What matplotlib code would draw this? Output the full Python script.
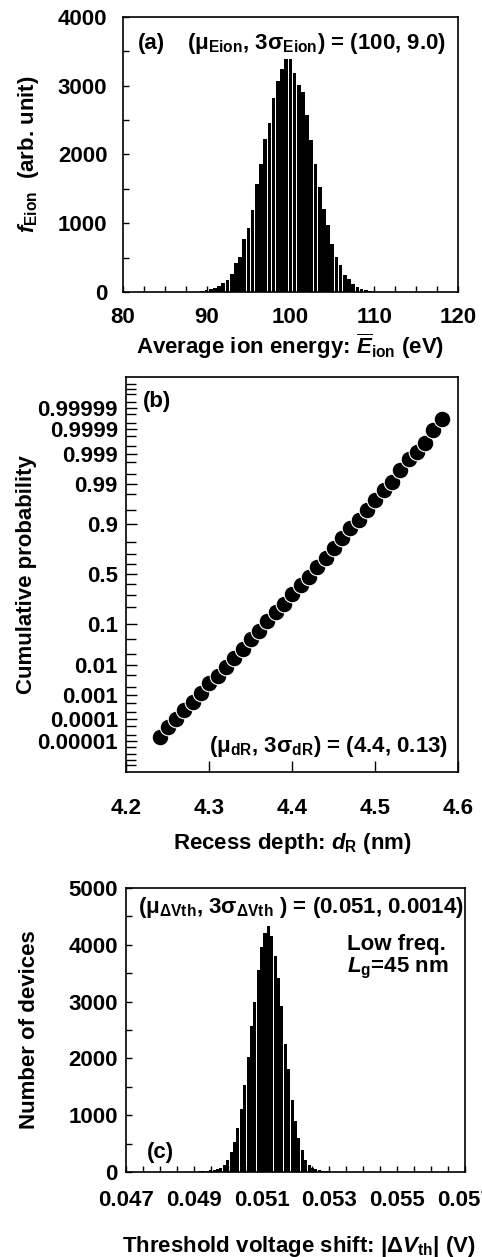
from statistics import NormalDist

import numpy as np
import matplotlib
matplotlib.use("Agg")
import matplotlib.pyplot as plt
from matplotlib.ticker import FixedLocator, MultipleLocator, NullFormatter

plt.rcParams["font.family"] = ["Liberation Sans", "DejaVu Sans"]
plt.rcParams["font.weight"] = "bold"
plt.rcParams["axes.labelweight"] = "bold"
plt.rcParams["mathtext.fontset"] = "custom"
plt.rcParams["mathtext.rm"] = "Liberation Sans:bold"
plt.rcParams["mathtext.bf"] = "Liberation Sans:bold"
plt.rcParams["mathtext.it"] = "Liberation Sans:bold:italic"
plt.rcParams["axes.linewidth"] = 1.2

# (a) ion energy histogram, bin width 0.5 eV
eion_centers = np.arange(87.5, 111.01, 0.5)
eion_counts = [2, 3, 4, 6, 10, 24, 44, 63, 87, 131, 180, 267, 427, 510, 776, 932,
               1189, 1567, 1868, 2232, 2451, 2829, 3072, 3237,
               3383, 3383, 3188, 3009, 2912, 2572, 2208, 1859, 1529, 1213, 971, 704,
               510, 388, 243, 184, 121, 73, 49, 24, 12, 6, 4, 2]

# (b) recess depth normal probability plot
depth_nm = np.round(np.arange(4.24, 4.5801, 0.01), 2)
cum_prob = [1.56e-5, 4.65e-5, 1.0e-4, 2.5e-4, 5.4e-4, 1.14e-3, 2.6e-3, 4.55e-3, 8.9e-3,
            0.0156, 0.0272, 0.0478, 0.0741, 0.1156, 0.1668, 0.2254, 0.3068, 0.392, 0.475,
            0.571, 0.665, 0.748, 0.822, 0.881, 0.918, 0.9504, 0.9716, 0.9847, 0.9912,
            0.99625, 0.99841, 0.99917, 0.99961, 0.999892, 0.999965]
prob_ticks = [0.00001, 0.0001, 0.001, 0.01, 0.1, 0.5, 0.9, 0.99, 0.999, 0.9999, 0.99999]
prob_labels = ["0.00001", "0.0001", "0.001", "0.01", "0.1", "0.5", "0.9", "0.99",
               "0.999", "0.9999", "0.99999"]
prob_minor = [5e-7, 1e-6, 2e-6, 5e-6, 2e-5, 5e-5, 2e-4, 5e-4, 2e-3, 5e-3, 0.02, 0.05,
              0.2, 0.3, 0.4, 0.6, 0.7, 0.8, 0.95, 0.98, 0.995, 0.998, 0.9995, 0.9998,
              0.99995, 0.99998, 0.999995, 0.999998, 0.999999, 0.9999995]

# (c) threshold voltage shift histogram, bin width 0.1 mV
dvth_centers = np.round(np.arange(0.0491, 0.05311, 0.0001), 4)
dvth_counts = [8, 12, 18, 24, 30, 38, 47, 68, 124, 206, 345, 530, 780, 1110, 1530,
               2030, 2570, 3000, 3557, 3969, 4204,
               4336, 4150, 3800, 3420, 2920, 2250, 1820, 1264, 900, 590, 382, 220, 130,
               75, 45, 35, 25, 18, 12, 8]

W, H = 482, 1257
fig = plt.figure(figsize=(W / 100, H / 100), dpi=100)


def frame(left, top, right, bottom):
    return fig.add_axes([left / W, 1 - bottom / H, (right - left) / W, (bottom - top) / H])


_nd = NormalDist()


def probit(p):
    p = np.clip(np.asarray(p, dtype=float), 1e-15, 1 - 1e-15)
    return np.vectorize(_nd.inv_cdf)(p)


def inv_probit(z):
    return np.vectorize(_nd.cdf)(np.asarray(z, dtype=float))


tick_font = 16
label_font = 16
ann_font = 16

# ---------- (a)
ax = frame(122.7, 17, 458, 292)
ax.bar(eion_centers, eion_counts, width=0.44, color="black", linewidth=0)
ax.set_xlim(80, 120)
ax.set_ylim(0, 4000)
ax.xaxis.set_major_locator(MultipleLocator(10))
ax.xaxis.set_minor_locator(MultipleLocator(2.5))
ax.yaxis.set_major_locator(MultipleLocator(1000))
ax.yaxis.set_minor_locator(MultipleLocator(500))
ax.tick_params(which="both", direction="in", length=4, width=1, labelsize=tick_font, pad=11)
ax.set_xlabel(r"Average ion energy: $\overline{E}_{\rm ion}$ (eV)", fontsize=label_font)
ax.xaxis.set_label_coords(0.5, -0.145)
ax.set_ylabel(r"$f_{\rm Eion}$  (arb. unit)", fontsize=label_font)
ax.yaxis.set_label_coords(-0.245, 0.5)
ax.text(0.046, 0.905, "(a)", transform=ax.transAxes, fontsize=ann_font, va="center")
ax.text(0.963, 0.905, r"(μ$_{\rm Eion}$, 3σ$_{\rm Eion}$) = (100, 9.0)",
        transform=ax.transAxes, fontsize=ann_font, va="center", ha="right")

# ---------- (b)
ax = frame(126.3, 377, 458.3, 771.7)
ax.plot(depth_nm, cum_prob, "o", color="black", markersize=12, mec="white", mew=0.8)
ax.set_yscale("function", functions=(probit, inv_probit))
ax.set_xlim(4.2, 4.6)
ax.set_ylim(inv_probit(-5.06), inv_probit(5.06))
ax.set_xticks([4.2, 4.3, 4.4, 4.5, 4.6])
ax.yaxis.set_major_locator(FixedLocator(prob_ticks))
ax.yaxis.set_minor_locator(FixedLocator(prob_minor))
ax.yaxis.set_minor_formatter(NullFormatter())
ax.set_yticklabels(prob_labels)
ax.tick_params(which="major", direction="in", length=8, width=1, labelsize=tick_font)
ax.tick_params(which="minor", direction="in", length=7, width=1)
ax.tick_params(axis="y", pad=6)
ax.tick_params(axis="x", pad=19)
ax.set_xlabel(r"Recess depth: $d_{\rm R}$ (nm)", fontsize=label_font)
ax.xaxis.set_label_coords(0.5, -0.15)
ax.set_ylabel("Cumulative probability", fontsize=label_font)
ax.yaxis.set_label_coords(-0.27, 0.5)
ax.text(0.05, 0.939, "(b)", transform=ax.transAxes, fontsize=ann_font, va="center")
ax.text(0.97, 0.065, r"(μ$_{\rm dR}$, 3σ$_{\rm dR}$) = (4.4, 0.13)",
        transform=ax.transAxes, fontsize=ann_font, va="center", ha="right")

# ---------- (c)
ax = frame(126, 888, 465, 1172)
ax.bar(dvth_centers, dvth_counts, width=0.00009, color="black", linewidth=0)
ax.set_xlim(0.047, 0.057)
ax.set_ylim(0, 5000)
ax.set_xticks([0.047, 0.049, 0.051, 0.053, 0.055, 0.057])
ax.set_xticklabels(["0.047", "0.049", "0.051", "0.053", "0.055", "0.057"])
ax.xaxis.set_minor_locator(MultipleLocator(0.0005))
ax.yaxis.set_major_locator(MultipleLocator(1000))
ax.yaxis.set_minor_locator(MultipleLocator(500))
ax.tick_params(which="both", direction="in", length=4, width=1, labelsize=tick_font)
ax.tick_params(axis="y", pad=6)
ax.tick_params(axis="x", pad=13)
ax.set_xlabel(r"Threshold voltage shift: |Δ$V_{\rm th}$| (V)", fontsize=label_font)
ax.xaxis.set_label_coords(0.51, -0.22)
ax.set_ylabel("Number of devices", fontsize=label_font)
ax.yaxis.set_label_coords(-0.254, 0.5)
ax.text(0.035, 0.93, r"(μ$_{\rm ΔVth}$, 3σ$_{\rm ΔVth}$ ) = (0.051, 0.0014)",
        transform=ax.transAxes, fontsize=ann_font, va="center")
ax.text(0.652, 0.80, "Low freq.", transform=ax.transAxes, fontsize=ann_font,
        va="center", ha="left")
ax.text(0.652, 0.715, r"$L_{\rm g}$=45 nm", transform=ax.transAxes, fontsize=ann_font,
        va="center", ha="left")
ax.text(0.062, 0.067, "(c)", transform=ax.transAxes, fontsize=ann_font, va="center")

fig.savefig("out.png", dpi=100)
